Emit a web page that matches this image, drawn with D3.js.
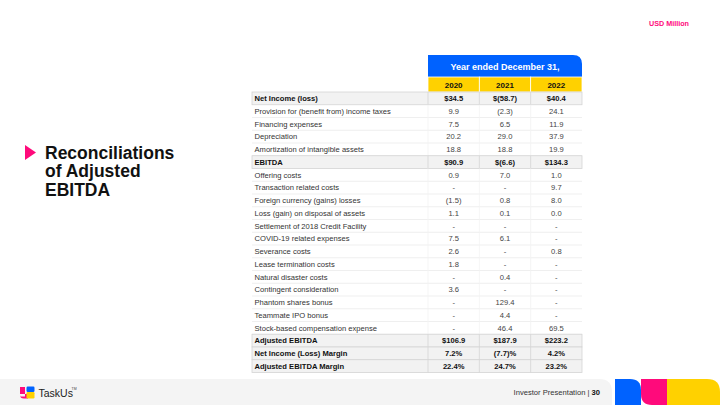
<!DOCTYPE html>
<html><head><meta charset="utf-8">
<script src="https://cdn.jsdelivr.net/npm/d3@7"></script>
<style>
html,body{margin:0;padding:0;background:#fff;}
svg{display:block;font-family:"Liberation Sans",Arial,Helvetica,sans-serif;}
</style></head>
<body>
<svg id="c" width="720" height="405"></svg>
<script>
const years = ["2020","2021","2022"];
const rowLabels = [
  "Net Income (loss)",
  "Provision for (benefit from) income taxes",
  "Financing expenses",
  "Depreciation",
  "Amortization of intangible assets",
  "EBITDA",
  "Offering costs",
  "Transaction related costs",
  "Foreign currency (gains) losses",
  "Loss (gain) on disposal of assets",
  "Settlement of 2018 Credit Facility",
  "COVID-19 related expenses",
  "Severance costs",
  "Lease termination costs",
  "Natural disaster costs",
  "Contingent consideration",
  " Phantom shares bonus",
  "Teammate IPO bonus",
  "Stock-based compensation expense",
  "Adjusted EBITDA",
  "Net Income (Loss) Margin",
  "Adjusted EBITDA Margin"
];
const values2020 = ["$34.5","9.9","7.5","20.2","18.8","$90.9","0.9","-","(1.5)","1.1","-","7.5","2.6","1.8","-","3.6","-","-","-","$106.9","7.2%","22.4%"];
const values2021 = ["$(58.7)","(2.3)","6.5","29.0","18.8","$(6.6)","7.0","-","0.8","0.1","-","6.1","-","-","0.4","-","129.4","4.4","46.4","$187.9","(7.7)%","24.7%"];
const values2022 = ["$40.4","24.1","11.9","37.9","19.9","$134.3","1.0","9.7","8.0","0.0","-","-","0.8","-","-","-","-","-","69.5","$223.2","4.2%","23.2%"];
const boldRows = ["Net Income (loss)","EBITDA","Adjusted EBITDA","Net Income (Loss) Margin","Adjusted EBITDA Margin"];
const headerTitle = "Year ended December 31,";
const titleLines = ["Reconciliations","of Adjusted","EBITDA"];

const BLUE="#0062ff", YELLOW="#ffd100", PINK="#ff0a7b";
const svg = d3.select("#c");
const colVals = {"2020":values2020,"2021":values2021,"2022":values2022};

const y = d3.scaleBand().domain(d3.range(rowLabels.length)).range([92,372.5]).paddingInner(0);
const x = d3.scaleBand().domain(years).range([428,582]);
const L0 = 252, R0 = 582;

// header
const hx0 = x.range()[0], hx1 = x.range()[1], hy0 = 55, hy1 = 77, r = 9;
svg.append("path").attr("fill",BLUE)
  .attr("d",`M${hx0},${hy0}H${hx1-r}Q${hx1},${hy0} ${hx1},${hy0+r}V${hy1}H${hx0}Z`);
svg.append("text").attr("x",(hx0+hx1)/2).attr("y",69.5).attr("text-anchor","middle")
  .attr("fill","#fff").attr("font-weight","bold").attr("font-size",9).text(headerTitle);
svg.selectAll("rect.yr").data(years).join("rect").attr("class","yr")
  .attr("x",d=>x(d)).attr("y",hy1).attr("width",x.bandwidth()).attr("height",92-hy1)
  .attr("fill",YELLOW).attr("stroke","#fff").attr("stroke-width",0.8);
svg.selectAll("text.yr").data(years).join("text").attr("class","yr")
  .attr("x",d=>x(d)+x.bandwidth()/2).attr("y",87.5).attr("text-anchor","middle")
  .attr("font-size",8).attr("font-weight","bold").attr("fill","#111").text(d=>d);

// rows
const rows = svg.selectAll("g.row").data(rowLabels).join("g").attr("class","row")
  .attr("transform",(d,i)=>`translate(0,${y(i)})`);
rows.each(function(lab,i){
  const g = d3.select(this);
  const bold = boldRows.includes(lab);
  const h = y.bandwidth();
  if(bold){
    g.append("rect").attr("x",L0).attr("y",0).attr("width",R0-L0).attr("height",h)
      .attr("fill","#f2f2f2").attr("stroke","#d4d4d4").attr("stroke-width",0.8);
    years.forEach(yr=>{
      g.append("line").attr("x1",x(yr)).attr("x2",x(yr)).attr("y1",0).attr("y2",h)
        .attr("stroke","#d4d4d4").attr("stroke-width",0.8);
    });
  } else {
    g.append("line").attr("x1",L0).attr("x2",R0).attr("y1",h).attr("y2",h)
      .attr("stroke","#ebebeb").attr("stroke-width",0.8);
    years.forEach(yr=>{
      g.append("line").attr("x1",x(yr)).attr("x2",x(yr)).attr("y1",0).attr("y2",h)
        .attr("stroke","#f3f3f3").attr("stroke-width",0.8);
    });
  }
  g.append("text").attr("x",L0+2.5).attr("y",h/2+2.7).attr("font-size",7.6)
    .attr("font-weight",bold?"bold":"normal").attr("fill",bold?"#111":"#333").text(lab);
  years.forEach(yr=>{
    g.append("text").attr("x",x(yr)+x.bandwidth()/2).attr("y",h/2+2.7)
      .attr("text-anchor","middle").attr("font-size",7.6)
      .attr("font-weight",bold?"bold":"normal").attr("fill",bold?"#111":"#444")
      .text(colVals[yr][i]);
  });
});

// title
svg.append("path").attr("fill",PINK).attr("d","M25,145L36,152.5L25,160Z");
svg.selectAll("text.title").data(titleLines).join("text").attr("class","title")
  .attr("x",45).attr("y",(d,i)=>158.5+i*18.5).attr("font-size",17.5).attr("font-weight","bold")
  .attr("fill","#111").text(d=>d);

// USD Million
svg.append("text").attr("x",689).attr("y",26).attr("text-anchor","end").attr("font-size",7.2)
  .attr("font-weight","bold").attr("fill",PINK).text("USD Million");

// footer
svg.append("path").attr("fill","#f4f4f4")
  .attr("d","M0,379H599Q612,379 612,392V405H0Z");
svg.append("path").attr("fill",BLUE).attr("d","M615,379H630Q641,379 641,390V405H615Z");
svg.append("path").attr("fill",PINK).attr("d","M641,379H668V405H652Q641,405 641,394Z");
svg.append("path").attr("fill",YELLOW).attr("d","M667,379H707Q720,379 720,392V405H667Z");

// logo
svg.append("path").attr("fill",PINK).attr("d","M20,387H25V396.5H20Z M20,395Q20,398.5 24,398.5H28V394H20Z");
svg.append("rect").attr("x",26.5).attr("y",386.5).attr("width",8).attr("height",5.5).attr("rx",1.2).attr("fill",BLUE);
svg.append("rect").attr("x",26.5).attr("y",392).attr("width",8).attr("height",6.5).attr("rx",1.2).attr("fill",YELLOW);
svg.append("text").attr("x",38.5).attr("y",397).attr("font-size",10.5).attr("fill","#222").text("TaskUs");
svg.append("text").attr("x",71.5).attr("y",390).attr("font-size",3.5).attr("fill","#444").text("TM");

const ft = svg.append("text").attr("x",600).attr("y",395).attr("text-anchor","end").attr("font-size",7.6).attr("fill","#333");
ft.append("tspan").text("Investor Presentation | ");
ft.append("tspan").attr("font-weight","bold").attr("fill","#111").text("30");
</script>
</body></html>
